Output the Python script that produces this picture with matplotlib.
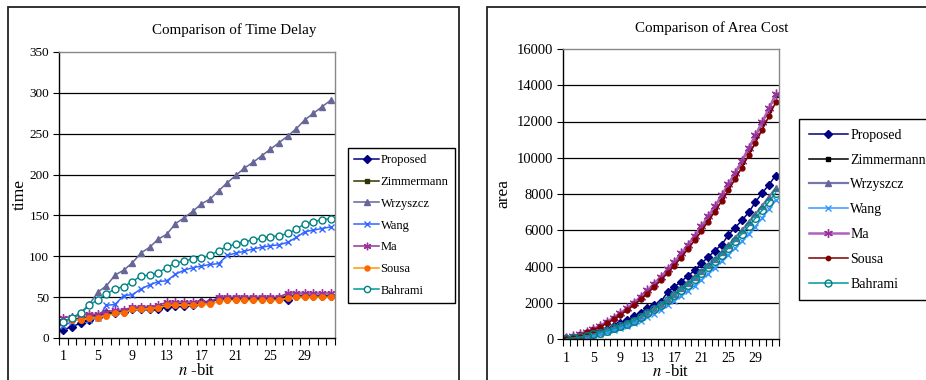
import numpy as np
import matplotlib
matplotlib.use("Agg")
import matplotlib.pyplot as plt
from matplotlib.patches import Rectangle

plt.rcParams['font.family'] = ['Liberation Serif', 'DejaVu Serif']
plt.rcParams['mathtext.fontset'] = 'stix'

n_bits = list(range(1, 33))
xtick_labels = [1, 5, 9, 13, 17, 21, 25, 29]
series_names = ['Proposed', 'Zimmermann', 'Wrzyszcz', 'Wang', 'Ma', 'Sousa', 'Bahrami']

# time delay
t_proposed = [10, 14, 18, 22, 26, 31, 31, 32, 35, 35, 35, 35, 38, 39, 39, 40, 44, 44, 48, 48, 48, 48, 48, 48, 48, 48, 47, 52, 52, 52, 52, 52]
t_zimmermann = [21, 23, 24, 26, 28, 30, 32, 33, 36, 37, 37, 38, 41, 42, 42, 42, 44, 44, 48, 48, 48, 48, 48, 48, 48, 48, 52, 52, 52, 52, 52, 52]
t_wrzyszcz = [20, 24, 31, 41, 56, 64, 77, 83, 92, 104, 111, 121, 127, 140, 147, 155, 164, 170, 180, 190, 199, 208, 215, 223, 231, 239, 247, 256, 267, 275, 283, 291]
t_wang = [15, 20, 24, 22, 24, 40, 41, 52, 53, 60, 65, 69, 70, 78, 83, 86, 88, 90, 91, 101, 104, 106, 109, 111, 113, 114, 117, 123, 130, 132, 134, 136]
t_ma = [25, 26, 28, 29, 29, 32, 34, 34, 38, 38, 38, 40, 44, 44, 44, 44, 44, 44, 50, 50, 50, 50, 50, 50, 50, 50, 55, 55, 55, 55, 55, 55]
t_sousa = [19, 22, 22, 24, 25, 27, 30, 31, 35, 35, 36, 37, 40, 40, 40, 40, 41, 41, 45, 46, 46, 46, 46, 46, 46, 46, 49, 50, 50, 50, 50, 50]
t_bahrami = [20, 25, 30, 40, 47, 54, 60, 63, 69, 76, 77, 80, 86, 92, 94, 97, 98, 101, 107, 112, 115, 118, 120, 122, 124, 125, 128, 133, 140, 142, 145, 146]

# area cost
a_proposed = [30, 70, 130, 210, 310, 420, 550, 700, 860, 1050, 1250, 1450, 1690, 1870, 2050, 2600, 2880, 3170, 3480, 3780, 4180, 4510, 4880, 5190, 5740, 6150, 6540, 6980, 7550, 8050, 8510, 9020]
a_zimmermann = [70, 150, 260, 390, 540, 720, 920, 1150, 1400, 1670, 1970, 2290, 2640, 3010, 3390, 3800, 4220, 4670, 5150, 5650, 6170, 6720, 7290, 7870, 8490, 9120, 9780, 10470, 11180, 11910, 12660, 13440]
a_wrzyszcz = [25, 60, 110, 180, 260, 360, 470, 600, 720, 880, 1050, 1240, 1460, 1690, 1930, 2200, 2480, 2790, 3090, 3400, 3740, 4090, 4440, 4800, 5180, 5590, 6000, 6440, 6890, 7350, 7830, 8320]
a_wang = [10, 30, 70, 130, 200, 280, 370, 470, 580, 710, 860, 1020, 1200, 1400, 1620, 1860, 2110, 2380, 2660, 2950, 3260, 3600, 3940, 4300, 4650, 5010, 5390, 5790, 6200, 6680, 7170, 7680]
a_ma = [80, 160, 270, 410, 560, 740, 950, 1180, 1430, 1700, 2000, 2330, 2680, 3050, 3430, 3840, 4260, 4720, 5200, 5700, 6220, 6770, 7340, 7920, 8550, 9180, 9840, 10530, 11240, 11970, 12720, 13500]
a_sousa = [60, 130, 230, 360, 500, 670, 860, 1080, 1320, 1580, 1870, 2180, 2510, 2870, 3240, 3640, 4050, 4490, 4960, 5440, 5950, 6480, 7030, 7600, 8200, 8820, 9460, 10130, 10820, 11540, 12280, 13050]
a_bahrami = [20, 50, 100, 170, 250, 350, 460, 580, 690, 850, 1020, 1210, 1420, 1640, 1880, 2140, 2420, 2720, 3000, 3300, 3630, 3970, 4300, 4650, 5010, 5410, 5800, 6230, 6660, 7100, 7570, 8050]

W, H = 926, 380
fig = plt.figure(figsize=(W / 100, H / 100), dpi=100)

# panel frames (Excel chart areas)
fig.patches.append(Rectangle((8 / W, -0.1), 451 / W, 1.1 - 7 / H, transform=fig.transFigure,
                             fill=False, edgecolor='#222222', lw=1.3))
fig.patches.append(Rectangle((487 / W, -0.1), 450 / W, 1.1 - 7 / H, transform=fig.transFigure,
                             fill=False, edgecolor='#222222', lw=1.3))

ax1 = fig.add_axes([59 / W, 1 - 338 / H, 276 / W, 286 / H])
ax2 = fig.add_axes([563 / W, 1 - 339 / H, 216 / W, 290 / H])

ast = (6, 2, 0)
style_t = [
    dict(color='#000080', marker='D', ms=4.0, mfc='#000080', mec='#000080'),
    dict(color='#333300', marker='s', ms=3.5, mfc='#333300', mec='#333300'),
    dict(color='#666699', marker='^', ms=4.5, mfc='#666699', mec='#666699'),
    dict(color='#3366FF', marker='x', ms=4.5, mfc='#3366FF', mec='#3366FF', mew=1.0),
    dict(color='#993399', marker=ast, ms=6, mfc='#660066', mec='#993399', mew=1.0),
    dict(color='#FF9900', marker='o', ms=4.0, mfc='#FF6600', mec='#FF6600'),
    dict(color='#009999', marker='o', ms=5.0, mfc='white', mec='#008080', mew=1.0),
]
style_a = [
    dict(color='#000080', marker='D', ms=4.5, mfc='#000080', mec='#000080'),
    dict(color='#000000', marker='s', ms=3.5, mfc='#000000', mec='#000000'),
    dict(color='#7777AA', marker='^', ms=4.5, mfc='#666699', mec='#666699', lw=1.6),
    dict(color='#3399FF', marker='x', ms=5.0, mfc='#3399FF', mec='#3399FF', mew=1.0),
    dict(color='#B060C0', marker=ast, ms=7, mfc='#660066', mec='#993399', mew=1.0, lw=1.8),
    dict(color='#800000', marker='o', ms=3.5, mfc='#800000', mec='#800000'),
    dict(color='#009999', marker='o', ms=5.5, mfc='none', mec='#008080', mew=1.0),
]

t_data = [t_proposed, t_zimmermann, t_wrzyszcz, t_wang, t_ma, t_sousa, t_bahrami]
a_data = [a_proposed, a_zimmermann, a_wrzyszcz, a_wang, a_ma, a_sousa, a_bahrami]

for name, ys, st in zip(series_names, t_data, style_t):
    kw = dict(lw=1.1)
    kw.update(st)
    ax1.plot(n_bits, ys, label=name, **kw)
for name, ys, st in zip(series_names, a_data, style_a):
    kw = dict(lw=1.1)
    kw.update(st)
    ax2.plot(n_bits, ys, label=name, **kw)


def excel_axes(ax, ymax, ystep, fs):
    ax.set_xlim(0.5, 32.5)
    ax.set_ylim(0, ymax)
    yt = np.arange(0, ymax + 1, ystep)
    ax.set_yticks(yt)
    ax.set_yticklabels([str(int(v)) for v in yt], fontsize=fs)
    for v in yt[1:-1]:
        ax.axhline(v, color='black', lw=0.9, zorder=0.5)
    ax.set_xticks(np.arange(0.5, 33, 1))
    ax.set_xticklabels([])
    ax.set_xticks(xtick_labels, minor=True)
    ax.set_xticklabels([str(v) for v in xtick_labels], minor=True, fontsize=10)
    ax.tick_params(axis='x', which='major', direction='out', length=5, width=0.8)
    ax.tick_params(axis='x', which='minor', length=0, pad=9)
    ax.tick_params(axis='y', direction='out', length=4, width=0.8, pad=3)
    for s in ('top', 'right'):
        ax.spines[s].set_color('#888888')
        ax.spines[s].set_linewidth(1.0)
    for s in ('left', 'bottom'):
        ax.spines[s].set_color('black')
        ax.spines[s].set_linewidth(1.0)
    ax.set_xlabel('$n$ -bit', fontsize=12, labelpad=-0.5)


excel_axes(ax1, 350, 50, 9.5)
excel_axes(ax2, 16000, 2000, 10.5)
ax1.set_ylabel('time', fontsize=12.5, labelpad=1)
ax2.set_ylabel('area', fontsize=12.5, labelpad=4)

fig.text(234 / W, 1 - 30 / H, 'Comparison of Time Delay', ha='center', va='center', fontsize=10.8)
fig.text(712 / W, 1 - 28 / H, 'Comparison of Area Cost', ha='center', va='center', fontsize=10.8)

h1, l1 = ax1.get_legend_handles_labels()
leg1 = fig.legend(h1, l1, loc='upper left', bbox_to_anchor=(348 / W, 1 - 148 / H), fontsize=9,
                  frameon=True, fancybox=False, edgecolor='black', framealpha=1,
                  handlelength=2.0, handletextpad=0.1, labelspacing=0.78, borderpad=0.5,
                  borderaxespad=0, markerscale=0.9)
leg1.get_frame().set_linewidth(1.0)

h2, l2 = ax2.get_legend_handles_labels()
leg2 = fig.legend(h2, l2, loc='upper left', bbox_to_anchor=(799 / W, 1 - 119 / H), fontsize=10,
                  frameon=True, fancybox=False, edgecolor='black', framealpha=1,
                  handlelength=2.8, handletextpad=0.2, labelspacing=0.85, borderpad=0.7,
                  borderaxespad=0, markerscale=0.9)
leg2.get_frame().set_linewidth(1.0)

fig.savefig('out.png', dpi=100)
